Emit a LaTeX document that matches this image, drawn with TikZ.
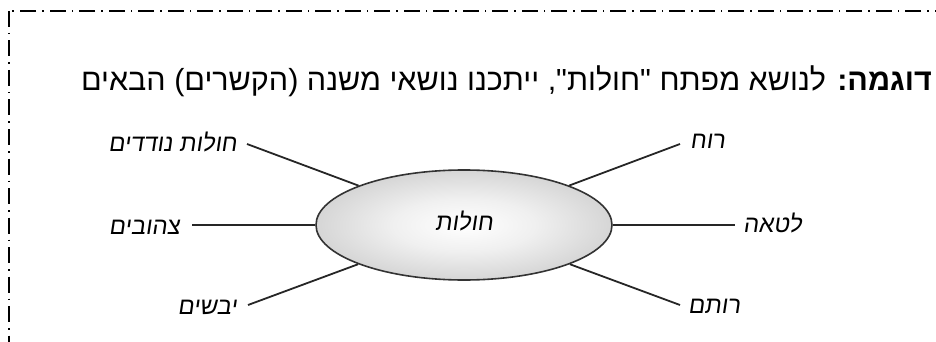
\documentclass[tikz,border=0pt]{standalone}
\usepackage{fontspec}
\setmainfont{Liberation Sans}
\newfontfamily\hebfont[Script=Hebrew]{Liberation Sans}
\newfontfamily\handfont[Script=Hebrew,FakeSlant=0.15]{Liberation Sans}
\TeXXeTstate=1
\usetikzlibrary{shapes.geometric}
\pgfdeclareradialshading{ellshade}{\pgfpoint{0bp}{0bp}}{color(0bp)=(white); color(12bp)=(white!94!black); color(50bp)=(black!36)}
\tikzset{
  border/.style={draw=black, line width=1.2pt, dash pattern=on 16pt off 6pt on 1.5pt off 6pt},
  conn/.style={draw=black!85, line width=1.8pt},
  lbl/.style={inner sep=0pt, font=\handfont\fontsize{24}{28}\selectfont},
  hub/.style={ellipse, draw=black!80, line width=1.6pt, shading=ellshade, minimum width=296pt, minimum height=110pt, inner sep=0pt},
}
\begin{document}
\begin{tikzpicture}[x=1pt,y=-1pt]
\useasboundingbox (0,0) rectangle (936,342);
\clip (0,0) rectangle (936,342);
\draw[border] (9,11) rectangle (1000,420);
\node[anchor=base east, inner sep=0pt, font=\hebfont\fontsize{30.5}{36}\selectfont] (head) at (932,91)
  {\beginR\textbf{דוגמה:} לנושא מפתח "חולות", ייתכנו נושאי משנה (הקשרים) הבאים\endR};
\node[hub] (ell) at (464,225) {};
\node[lbl, anchor=base] (main) at (464,230) {\beginR חולות\endR};
\coordinate (c1) at (247,144);
\coordinate (c2) at (192,225);
\coordinate (c3) at (248,305);
\coordinate (c4) at (680,144);
\coordinate (c5) at (735,225);
\coordinate (c6) at (680,305);
\draw[conn] (ell) -- (c1);
\draw[conn] (ell) -- (c2);
\draw[conn] (ell) -- (c3);
\draw[conn] (ell) -- (c4);
\draw[conn] (ell) -- (c5);
\draw[conn] (ell) -- (c6);
\node[lbl, anchor=base east] (l1) at (237,151) {\beginR חולות נודדים\endR};
\node[lbl, anchor=base east] (l2) at (180,234) {\beginR צהובים\endR};
\node[lbl, anchor=base east] (l3) at (237,314) {\beginR יבשים\endR};
\node[lbl, anchor=base west] (r1) at (690,148) {\beginR רוח\endR};
\node[lbl, anchor=base west] (r2) at (743,232) {\beginR לטאה\endR};
\node[lbl, anchor=base west] (r3) at (688,313) {\beginR רותם\endR};
\end{tikzpicture}
\end{document}
